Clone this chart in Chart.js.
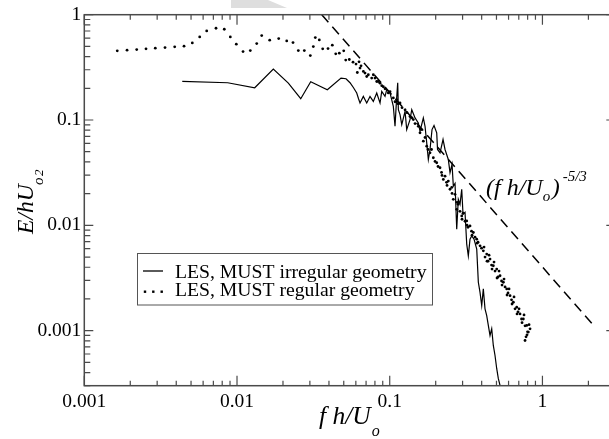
<!DOCTYPE html>
<html><head><meta charset="utf-8">
<script src="https://cdn.jsdelivr.net/npm/chart.js@4.4.0/dist/chart.umd.min.js"></script>
<style>
html,body{margin:0;padding:0;background:#fff;overflow:hidden;width:609px;height:439px}
#wrap{position:absolute;left:0;top:0;width:625px;height:439px}
</style>
</head><body><div id="wrap"><canvas id="c" width="625" height="439"></canvas></div>
<script>
// ---- data ----
const xTickLabels = ['0.001', '0.01', '0.1', '1'];
const yTickLabels = ['0.001', '0.01', '0.1', '1'];
const seriesNames = ['LES, MUST irregular geometry', 'LES, MUST regular geometry'];

const irregularX = [0.00438,0.00869,0.01306,0.01729,0.02168,0.02614,0.03038,0.03903,0.04798,0.05174,
  0.05495,0.05793,0.0608,0.06248,0.0639,0.06716,0.0707,0.07429,0.07809,0.0822,
  0.0864,0.08865,0.09316,0.09559,0.1005,0.1056,0.1083,0.1108,0.1128,0.1139,
  0.1168,0.1199,0.126,0.1292,0.1358,0.1394,0.1465,0.1539,0.1579,0.166,
  0.1703,0.1747,0.179,0.1836,0.1892,0.195,0.2031,0.2056,0.2135,0.2234,
  0.2302,0.2419,0.2482,0.2559,0.2609,0.2677,0.2746,0.2813,0.2886,0.2961,
  0.302,0.3112,0.3193,0.3271,0.3355,0.3442,0.3565,0.3713,0.3804,0.3902,
  0.4003,0.4101,0.4207,0.4316,0.4422,0.4537,0.4654,0.4768,0.4892,0.502,
  0.5143,0.5276,0.5437];
const irregularY = [0.2323,0.2258,0.2025,0.3043,0.2244,0.1594,0.2308,0.194,0.2502,0.2464,
  0.2258,0.2025,0.1805,0.1594,0.1451,0.1676,0.1451,0.1676,0.1502,0.1805,
  0.1451,0.1869,0.1676,0.194,0.1805,0.1348,0.0872,0.156,0.2258,0.1254,
  0.1125,0.0905,0.1209,0.0811,0.1009,0.1254,0.1047,0.0939,0.0782,0.1047,
  0.0872,0.0607,0.0422,0.0525,0.0811,0.0885,0.0755,0.0525,0.0488,0.0653,
  0.0525,0.0422,0.0316,0.0379,0.0236,0.025,0.00918,0.01766,0.01584,0.02196,
  0.01274,0.0133,0.00663,0.00513,0.00739,0.00794,0.00739,0.00594,0.00288,0.00231,
  0.00173,0.00249,0.00161,0.00139,0.00112,0.000899,0.00104,0.000723,0.000581,0.000435,
  0.00035,0.000302,0.000226];

const regularX = [0.001644,0.001905,0.002204,0.002536,0.002917,0.003377,0.003908,0.004498,0.005097,0.005698,
  0.006332,0.007286,0.008255,0.00904,0.009895,0.01095,0.01222,0.01346,0.01451,0.01637,
  0.01875,0.02116,0.02326,0.0252,0.02759,0.0302,0.0316,0.03256,0.03459,0.0364,
  0.03944,0.04209,0.0443,0.04677,0.04998,0.05151,0.05437,0.0575,0.06016,0.06135,0.06295,
  0.0639,0.0649,0.0672,0.0689,0.0707,0.0724,0.0762,0.0781,0.0801,0.0822,
  0.0842,0.0864,0.0887,0.0908,0.0932,0.0979,0.1005,0.1056,0.1083,0.1111,
  0.1133,0.1168,0.1204,0.126,0.1298,0.1358,0.14,0.1427,0.1465,0.1539,
  0.1579,0.1615,0.166,0.1703,0.1747,0.1781,0.1836,0.1878,0.193,0.198,
  0.2031,0.2072,0.2135,0.2184,0.22,0.2244,0.2302,0.2355,0.2373,0.2419,
  0.2482,0.2547,0.2559,0.2609,0.2677,0.2746,0.2759,0.2801,0.2886,0.2961,
  0.2975,0.302,0.3112,0.3193,0.3208,0.3256,0.3356,0.3433,0.3459,0.3528,
  0.3619,0.3713,0.373,0.3787,0.3903,0.3992,0.4102,0.4146,0.4208,0.4317,
  0.4337,0.4403,0.447,0.4538,0.4643,0.4677,0.477,0.4819,0.4893,0.502,
  0.5043,0.512,0.5198,0.5277,0.5398,0.5438,0.5546,0.5605,0.569,0.5837,
  0.5864,0.5953,0.6044,0.6135,0.6276,0.6323,0.6448,0.6516,0.6616,0.6787,
  0.6818,0.6921,0.7027,0.7133,0.7297,0.7352,0.7497,0.7577,0.7692,0.7809,
  0.7892,0.7929,0.7988,0.8086,0.8171,0.8296,0.7692];
const regularY = [0.4535,0.4605,0.4666,0.4737,0.481,0.4873,0.4949,0.5024,0.5398,0.6152,
  0.7012,0.7436,0.7276,0.6152,0.5248,0.4467,0.4564,0.5316,0.6329,0.5727,
  0.593,0.564,0.5434,0.4564,0.4564,0.4093,0.4982,0.6059,0.5765,0.4737,
  0.4768,0.5135,0.4248,0.4313,0.4535,0.3704,0.3753,0.3545,0.3394,0.2827,0.3568,
  0.311,0.327,0.289,0.279,0.259,0.269,0.25,0.269,0.25,0.232,
  0.232,0.224,0.212,0.207,0.198,0.181,0.186,0.162,0.149,0.156,
  0.143,0.145,0.131,0.125,0.1175,0.108,0.105,0.101,0.0925,0.0872,
  0.0755,0.0811,0.0629,0.0682,0.0564,0.0525,0.0488,0.0525,0.0438,0.0404,
  0.0393,0.0362,0.0352,0.0318,0.0298,0.0273,0.0293,0.0256,0.0239,0.0263,
  0.022,0.0229,0.0201,0.01766,0.01969,0.0142,0.01654,0.01584,0.01359,0.01227,
  0.01142,0.01302,0.01093,0.011,0.01002,0.00959,0.00987,0.00879,0.00806,0.00855,
  0.00772,0.00739,0.00677,0.00692,0.00639,0.00607,0.00572,0.00621,0.00499,0.00533,
  0.00457,0.00457,0.00521,0.00478,0.00419,0.00384,0.00413,0.00448,0.00368,0.00384,
  0.00316,0.00323,0.00368,0.00332,0.00296,0.00271,0.00288,0.00309,0.0026,0.00249,
  0.00218,0.00228,0.00249,0.00215,0.00196,0.00179,0.00186,0.00209,0.00161,0.00167,
  0.00144,0.00151,0.00161,0.00144,0.00129,0.00119,0.00129,0.00141,0.00111,0.000874,
  0.00112,0.000913,0.000974,0.000968,0.00114,0.00104,0.000806];

// reference slope line (f h/U)^-5/3, end points
const slopeX = [0.0359, 2.21];
const slopeY = [1.0, 0.00108];

// ---- styling ----
const FONT = '"Liberation Serif", "Times New Roman", serif';
const AXIS = '#4a4a4a';

function labelFor(list, v) {
  const s = list.find(l => Math.abs(parseFloat(l) - v) < v * 1e-6);
  return s || '';
}
function pts(xs, ys) { return xs.map((x, i) => ({x: x, y: ys[i]})); }

function richText(ctx, parts, x, y) {
  let cx = x;
  for (const p of parts) {
    ctx.font = (p.it ? 'italic ' : '') + p.size + 'px ' + FONT;
    ctx.fillText(p.t, cx + (p.dx || 0), y + (p.dy || 0));
    cx += (p.dx || 0) + ctx.measureText(p.t).width;
  }
}

const framePlugin = {
  id: 'frame',
  beforeDraw(chart) {
    const ctx = chart.ctx;
    ctx.save();
    ctx.fillStyle = '#fff';
    ctx.fillRect(0, 0, chart.width, chart.height);
    // faint grey watermark fragment at top edge
    ctx.fillStyle = '#dedede';
    ctx.beginPath();
    ctx.moveTo(231, 0); ctx.lineTo(268, 0); ctx.lineTo(287, 8); ctx.lineTo(231, 8);
    ctx.closePath(); ctx.fill();
    ctx.restore();
  },
  afterDraw(chart) {
    const {ctx, chartArea: a, scales: {x, y}} = chart;
    ctx.save();
    ctx.strokeStyle = AXIS;
    ctx.lineWidth = 1.5;
    ctx.strokeRect(a.left, a.top, a.right - a.left, a.bottom - a.top);
    const mult = [1,2,3,4,5,6,7,8,9];
    ctx.lineWidth = 1.2;
    ctx.beginPath();
    for (let e = Math.floor(Math.log10(x.min)); e <= Math.floor(Math.log10(x.max)); e++) {
      for (const m of mult) {
        const v = m * Math.pow(10, e);
        if (v < x.min * 0.999 || v > x.max * 1.001) continue;
        const p = x.getPixelForValue(v);
        const len = m === 1 ? 10 : 5;
        ctx.moveTo(p, a.bottom); ctx.lineTo(p, a.bottom - len);
        ctx.moveTo(p, a.top); ctx.lineTo(p, a.top + len);
      }
    }
    for (let e = Math.floor(Math.log10(y.min)); e <= Math.floor(Math.log10(y.max)); e++) {
      for (const m of mult) {
        const v = m * Math.pow(10, e);
        if (v < y.min * 0.999 || v > y.max * 1.001) continue;
        const p = y.getPixelForValue(v);
        const len = m === 1 ? 9 : 6;
        ctx.moveTo(a.left, p); ctx.lineTo(a.left + len, p);
        ctx.moveTo(a.right, p); ctx.lineTo(a.right - len, p);
      }
    }
    ctx.stroke();

    // legend
    ctx.strokeStyle = '#555';
    ctx.lineWidth = 1;
    ctx.strokeRect(137.5, 253.5, 295, 51.5);
    ctx.strokeStyle = '#000';
    ctx.lineWidth = 1.3;
    ctx.beginPath(); ctx.moveTo(143, 271); ctx.lineTo(163, 271); ctx.stroke();
    ctx.fillStyle = '#000';
    for (const dx of [145, 153.3, 161.7]) { ctx.fillRect(dx - 1.2, 290.5, 2.4, 2.4); }
    ctx.font = '19.7px ' + FONT;
    ctx.textBaseline = 'alphabetic';
    ctx.textAlign = 'left';
    ctx.fillText(seriesNames[0], 175, 277.5);
    ctx.fillText(seriesNames[1], 175, 296);

    // x axis title
    richText(ctx, [{t: 'f h/U', size: 25.5, it: true}, {t: 'o', size: 16, it: true, dy: 12, dx: 1}], 319, 424);

    // annotation
    richText(ctx, [
      {t: '(f h/U', size: 24, it: true},
      {t: 'o', size: 15, it: true, dy: 6},
      {t: ')', size: 24, it: true, dx: 1.5},
      {t: '-5/3', size: 15, it: true, dy: -14, dx: 3}
    ], 486, 195);

    // y axis title (rotated)
    ctx.save();
    ctx.translate(33, 234);
    ctx.rotate(-Math.PI / 2);
    richText(ctx, [{t: 'E/hU', size: 23.5, it: true}], 0, 0);
    ctx.font = 'italic 15px ' + FONT;
    ctx.fillText('o', 49, 9.5);
    ctx.font = 'italic 13px ' + FONT;
    ctx.fillText('2', 58, 10);
    ctx.restore();
    ctx.restore();
  }
};

new Chart(document.getElementById('c').getContext('2d'), {
  type: 'scatter',
  data: {
    datasets: [
      {label: seriesNames[0], data: pts(irregularX, irregularY), showLine: true,
       borderColor: '#000', borderWidth: 1.2, pointRadius: 0, tension: 0, order: 2},
      {label: seriesNames[1], data: pts(regularX, regularY), showLine: false,
       pointRadius: 1.4, pointStyle: 'circle', backgroundColor: '#000', borderWidth: 0, order: 1},
      {label: 'slope', data: pts(slopeX, slopeY), showLine: true, borderColor: '#000',
       borderWidth: 1.5, borderDash: [10, 6], pointRadius: 0, order: 3}
    ]
  },
  options: {
    responsive: false, animation: false, devicePixelRatio: 1,
    layout: {padding: {left: 0, right: 9.7, top: 14.7, bottom: 0}},
    plugins: {legend: {display: false}, tooltip: {enabled: false}},
    scales: {
      x: {
        type: 'logarithmic', min: 0.001, max: 3, position: 'bottom',
        grid: {display: false, drawTicks: false}, border: {display: false},
        ticks: {autoSkip: false, maxRotation: 0, minRotation: 0, padding: 4, color: '#000',
                font: {family: FONT, size: 19.5},
                callback: (v) => labelFor(xTickLabels, v)},
        afterFit: (s) => { s.height = 439 - 385.7; }
      },
      y: {
        type: 'logarithmic', min: 3.1e-4, max: 1, position: 'left',
        grid: {display: false, drawTicks: false}, border: {display: false},
        ticks: {autoSkip: false, padding: 3, color: '#000',
                font: {family: FONT, size: 19.5},
                callback: (v) => labelFor(yTickLabels, v)},
        afterFit: (s) => { s.width = 84.3; }
      }
    }
  },
  plugins: [framePlugin]
});
</script>
</body></html>
